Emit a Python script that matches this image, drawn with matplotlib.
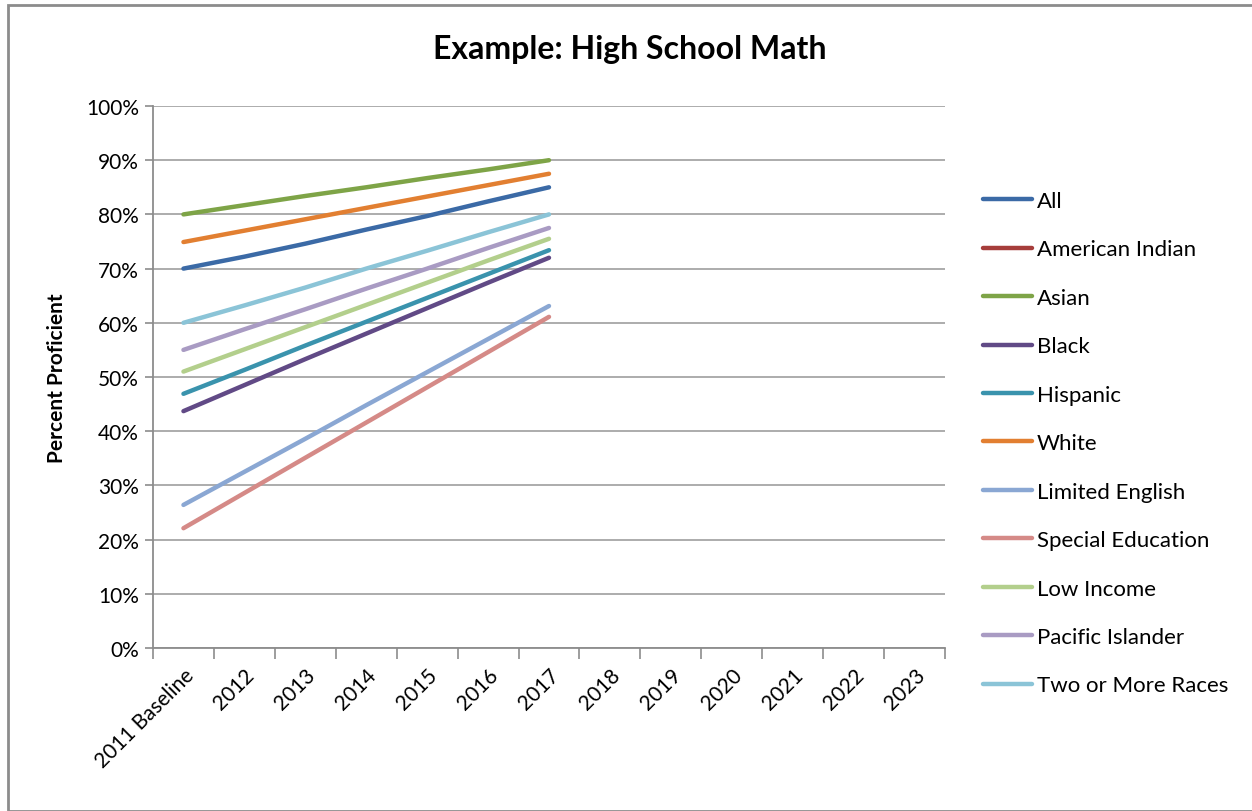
import numpy as np
import matplotlib.pyplot as plt
from matplotlib.patches import Rectangle

plt.rcParams['font.family'] = ['Lato', 'DejaVu Sans']

years = ["2011 Baseline", "2012", "2013", "2014", "2015", "2016", "2017",
         "2018", "2019", "2020", "2021", "2022", "2023"]

# percent proficient, baseline through 2017
all_students = [70, 72.2, 74.6, 77.2, 79.7, 82.4, 85]
american_indian = [np.nan] * 7
asian = [80, 81.7, 83.4, 85, 86.7, 88.3, 90]
black = [43.7, 48.5, 53.3, 58, 62.7, 67.4, 72]
hispanic = [46.9, 51.3, 55.8, 60.2, 64.6, 69, 73.4]
white = [74.9, 77, 79.1, 81.2, 83.3, 85.4, 87.5]
limited_english = [26.4, 32.5, 38.6, 44.8, 50.9, 57, 63.1]
special_education = [22.1, 28.6, 35.1, 41.6, 48.1, 54.6, 61.1]
low_income = [51, 55.1, 59.2, 63.3, 67.4, 71.5, 75.5]
pacific_islander = [55, 58.8, 62.5, 66.3, 70, 73.8, 77.5]
two_or_more = [60, 63.2, 66.5, 70, 73.3, 76.7, 80]

series = [
    ("All", all_students, "#3b6aa6"),
    ("American Indian", american_indian, "#a63d3b"),
    ("Asian", asian, "#7ea447"),
    ("Black", black, "#614a86"),
    ("Hispanic", hispanic, "#3a93ad"),
    ("White", white, "#e27f31"),
    ("Limited English", limited_english, "#8aa7d3"),
    ("Special Education", special_education, "#d58a87"),
    ("Low Income", low_income, "#b3cf8c"),
    ("Pacific Islander", pacific_islander, "#a99bc3"),
    ("Two or More Races", two_or_more, "#8bc4d7"),
]

fig = plt.figure(figsize=(12.52, 8.12), dpi=100)
ax = fig.add_axes([153 / 1252, 1 - 649 / 812, (945 - 153) / 1252, (649 - 107) / 812])

x = np.arange(len(years))
for name, vals, col in series:
    ax.plot(x[:len(vals)], vals, color=col, lw=3.2, solid_capstyle='round', label=name)

ax.set_xlim(-0.5, len(years) - 0.5)
ax.set_ylim(0, 100)
ax.set_yticks(np.arange(0, 101, 10))
ax.set_yticklabels([f"{v}%" for v in range(0, 101, 10)], fontsize=15)
ax.yaxis.grid(True, color="#a6a6a6", lw=1.3)
ax.set_axisbelow(True)

ax.set_xticks(x)
ax.set_xticklabels(years, rotation=45, ha='right', rotation_mode='anchor', fontsize=15)
ax.set_xticks(np.arange(-0.5, len(years)), minor=True)
ax.tick_params(axis='x', which='major', length=0, pad=12)
ax.tick_params(axis='x', which='minor', length=8, color="#8c8c8c", width=1.2)
ax.tick_params(axis='y', length=6, color="#8c8c8c", width=1.2, pad=4)

for s in ["top", "right"]:
    ax.spines[s].set_visible(False)
for s in ["left", "bottom"]:
    ax.spines[s].set_color("#8c8c8c")
    ax.spines[s].set_linewidth(1.3)

ax.set_ylabel("Percent Proficient", fontsize=15, fontweight='bold', labelpad=14)
fig.text(630 / 1252, 1 - 50 / 812, "Example: High School Math", ha='center', va='center',
         fontsize=23, fontweight='bold')

leg = ax.legend(loc='upper left', bbox_to_anchor=(1.023, 0.88), frameon=False, fontsize=16,
                handlelength=2.2, handletextpad=0.2, labelspacing=1.28)

fig.patches.append(Rectangle((8 / 1252, 0), 1.2, 1 - 6 / 812, transform=fig.transFigure,
                             fill=False, edgecolor="#8c8c8c", lw=2))

fig.savefig("out.png", dpi=100)
